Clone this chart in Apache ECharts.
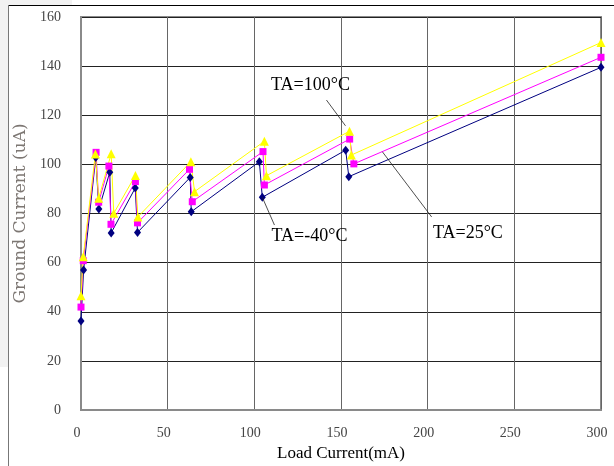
<!DOCTYPE html>
<html>
<head>
<meta charset="utf-8">
<script src="https://cdn.jsdelivr.net/npm/echarts@6/dist/echarts.min.js"></script>
<style>html,body{margin:0;padding:0;background:#fff}#c{width:614px;height:466px}</style>
</head>
<body>
<div id="c"></div>
<script>
// Data: [Load Current (mA), Ground Current (uA)]
const seriesNames = ['TA=-40°C', 'TA=25°C', 'TA=100°C'];
const taMinus40 = [[0,36.2],[1.5,57.0],[8.5,102.8],[10.3,81.8],[16.6,96.8],[17.4,72.1],[31.3,90.4],[32.6,72.3],[63,94.7],[63.6,80.7],[102.9,101.1],[104.6,86.6],[152.7,105.8],[154.5,95.0],[300,139.5]];
const ta25 = [[0,41.9],[1.3,60.8],[8.7,104.9],[10.2,84.6],[16.1,99.3],[17.3,75.6],[31.4,93.0],[32.6,76.2],[62.6,98.0],[64.2,84.8],[105,105.2],[105.8,91.6],[155,110.3],[157.4,100.2],[300,143.6]];
const ta100 = [[0,46.5],[1.3,62.4],[8.3,104.2],[10.2,86.2],[17.4,104.3],[18.9,80.1],[31.4,95.5],[32.8,78.6],[63.4,101.1],[65.5,88.9],[105.8,109.4],[107,95.4],[154.9,113.5],[156,103.8],[300,149.6]];
const xTicks = {min: 0, max: 300, interval: 50};
const yTicks = {min: 0, max: 160, interval: 20};
// Annotations: label text, label position, leader start, leader end (data units)
const annotations = [
  {text: 'TA=100°C', at: [132.4, 132.3], from: [141.6, 126.2], to: [152.6, 115.7]},
  {text: 'TA=-40°C', at: [131.8, 70.9], from: [104.6, 86.6], to: [111.6, 75.3]},
  {text: 'TA=25°C', at: [223.2, 72.1], from: [173.9, 105.1], to: [202.3, 78.6]}
];

const chart = echarts.init(document.getElementById('c'));
const serif = 'Liberation Serif';
function lineSeries(name, data, color, symbol, size) {
  return {
    name, type: 'line', data, symbol, symbolSize: size,
    lineStyle: {color, width: 1}, itemStyle: {color},
    emphasis: {disabled: true}, animation: false, z: 3
  };
}
chart.setOption({
  animation: false,
  backgroundColor: '#fff',
  grid: {left: 81, right: 13, top: 17, bottom: 56, show: true, borderColor: '#8a8a8a', borderWidth: 2, outerBoundsMode: 'none'},
  xAxis: {
    type: 'value', min: xTicks.min, max: xTicks.max, interval: xTicks.interval,
    name: 'Load Current(mA)', nameLocation: 'middle', nameGap: 34,
    nameTextStyle: {fontFamily: serif, fontSize: 17, color: '#000'},
    axisLine: {lineStyle: {color: '#8a8a8a', width: 2}},
    axisTick: {show: false},
    axisLabel: {fontFamily: serif, fontSize: 14, color: '#444', margin: 16, padding: [0, 8, 0, 0]},
    splitLine: {lineStyle: {color: '#666', width: 1}}
  },
  yAxis: {
    type: 'value', min: yTicks.min, max: yTicks.max, interval: yTicks.interval,
    name: 'Ground Current (uA)', nameLocation: 'middle', nameGap: 46, nameRotate: 90,
    nameTextStyle: {fontFamily: 'DejaVu Serif', fontSize: 17, color: '#7d7773'},
    axisLine: {show: true, lineStyle: {color: '#8a8a8a', width: 2}},
    axisTick: {show: false},
    axisLabel: {fontFamily: serif, fontSize: 14, color: '#444', margin: 20},
    splitLine: {lineStyle: {color: '#222', width: 1}}
  },
  series: [
    lineSeries(seriesNames[0], taMinus40, '#000080', 'diamond', [7, 9]),
    lineSeries(seriesNames[1], ta25, '#ff00ff', 'rect', 7),
    lineSeries(seriesNames[2], ta100, '#ffff00', 'triangle', 9)
  ]
});

const graphics = [
  {type: 'rect', shape: {x: 0, y: 0, width: 8, height: 367}, style: {fill: '#f2f2f2'}, silent: true, z: 0},
  {type: 'rect', shape: {x: 0, y: 0, width: 72, height: 5}, style: {fill: '#f2f2f2'}, silent: true, z: 0},
  {type: 'line', shape: {x1: 8, y1: 5.5, x2: 614, y2: 5.5}, style: {stroke: '#000', lineWidth: 1}, silent: true},
  {type: 'line', shape: {x1: 8.5, y1: 5, x2: 8.5, y2: 466}, style: {stroke: '#777', lineWidth: 1}, silent: true}
];
annotations.forEach(a => {
  const p = chart.convertToPixel({gridIndex: 0}, a.at);
  const f = chart.convertToPixel({gridIndex: 0}, a.from);
  const t = chart.convertToPixel({gridIndex: 0}, a.to);
  graphics.push({type: 'line', shape: {x1: f[0], y1: f[1], x2: t[0], y2: t[1]}, style: {stroke: '#222', lineWidth: 0.8}, silent: true, z: 10});
  graphics.push({type: 'text', x: p[0], y: p[1], style: {text: a.text, font: '18px "Liberation Serif"', fill: '#000', align: 'center', verticalAlign: 'middle'}, silent: true, z: 10});
});
chart.setOption({graphic: graphics});
</script>
</body>
</html>
